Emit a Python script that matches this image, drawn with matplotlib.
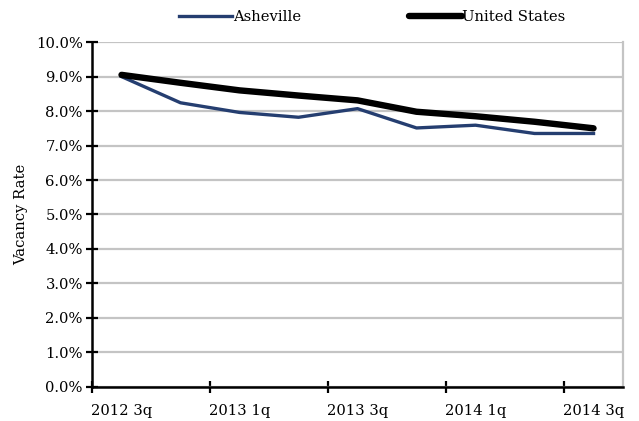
import matplotlib
matplotlib.use("Agg")
from matplotlib import pyplot as plt
from matplotlib.ticker import FixedLocator, PercentFormatter

quarters = ["2012 3q", "2012 4q", "2013 1q", "2013 2q", "2013 3q",
            "2013 4q", "2014 1q", "2014 2q", "2014 3q"]
asheville = [9.00, 8.24, 7.96, 7.82, 8.07, 7.51, 7.59, 7.35, 7.35]
united_states = [9.05, 8.82, 8.60, 8.45, 8.31, 7.98, 7.85, 7.69, 7.50]

plt.rcParams['font.family'] = ['DejaVu Serif']
fs = 10.6

fig = plt.figure(figsize=(6.39, 4.21), dpi=100)
ax = fig.add_axes([0.144, 0.081, 0.831, 0.819])

x = list(range(len(quarters)))
ax.plot(x, asheville, color='#253e70', lw=2.4, label='Asheville', zorder=3)
ax.plot(x, united_states, color='black', lw=4.6, label='United States',
        solid_capstyle='round', zorder=4)

ax.set_xlim(-0.5, len(quarters) - 0.5)
ax.set_ylim(0, 10)

# labels every other quarter, tick marks sit between the categories
ax.set_xticks(x[::2])
ax.set_xticklabels(quarters[::2], fontsize=fs)
ax.tick_params(axis='x', which='major', length=0, pad=12)
ax.xaxis.set_minor_locator(FixedLocator([-0.5, 1.5, 3.5, 5.5, 7.5]))
ax.tick_params(axis='x', which='minor', direction='inout', length=9, width=1.6)

ax.set_yticks(range(0, 11))
ax.yaxis.set_major_formatter(PercentFormatter(decimals=1))
ax.tick_params(axis='y', direction='inout', length=9, width=1.6, labelsize=fs, pad=2)
ax.set_ylabel("Vacancy Rate", fontsize=fs, labelpad=6)

ax.grid(axis='y', color='#c4c4c4', lw=1.6, zorder=0)
ax.set_axisbelow(True)
for side in ['left', 'bottom']:
    ax.spines[side].set_linewidth(1.8)
    ax.spines[side].set_color('black')
ax.spines['right'].set_color('#c4c4c4')
ax.spines['right'].set_linewidth(1.6)
ax.spines['top'].set_visible(False)

ax.legend(loc='lower center', bbox_to_anchor=(0.528, 1.03), ncol=2, frameon=False,
          fontsize=fs, handlelength=3.6, handletextpad=0.05, columnspacing=7.3,
          borderaxespad=0.1)

fig.savefig("out.png", dpi=100)
